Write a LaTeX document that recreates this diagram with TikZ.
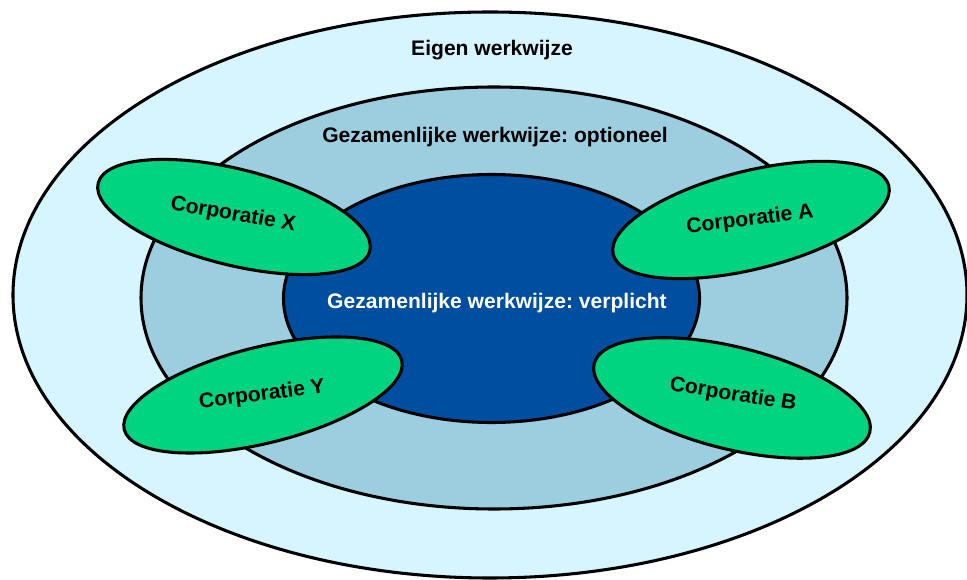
\documentclass[tikz,border=0pt]{standalone}
\usepackage{fontspec}
\setmainfont{Liberation Sans}
\frenchspacing
\definecolor{outerblue}{RGB}{214,245,255}
\definecolor{midblue}{RGB}{156,206,224}
\definecolor{innerblue}{RGB}{0,78,160}
\definecolor{corpgreen}{RGB}{0,212,128}
\begin{document}
\begin{tikzpicture}[x=0.75pt,y=-0.75pt, ring/.style={draw,line width=2.3pt}, corp/.style={ring,fill=corpgreen}]
	\tikzstyle{every node}=[font=\bfseries\fontsize{15.8}{18}\selectfont]
	\useasboundingbox (0,0) rectangle (967,580);
	% rings
	\draw[ring,fill=outerblue] (490,295) ellipse (477 and 283);
	\draw[ring,fill=midblue] (494,298) ellipse (353 and 211);
	\draw[ring,fill=innerblue] (491.5,298.5) ellipse (208 and 124);
	% corporaties
	\draw[corp,rotate around={-14:(234,217)}] (234,217) ellipse (140 and 48);
	\draw[corp,rotate around={14:(751,220)}] (751,220) ellipse (142 and 49);
	\draw[corp,rotate around={14:(263,395)}] (263,395) ellipse (143 and 48);
	\draw[corp,rotate around={-14:(732,398)}] (732,398) ellipse (142 and 51);
	\draw (492,50) node(eigen) {Eigen werkwijze}
	      (495,137) node(optie) {Gezamenlijke werkwijze: optioneel}
	      (497,303) node(plicht) [text=white] {Gezamenlijke werkwijze: verplicht}
	      (233,215) node(corpx) [rotate=-10] {Corporatie X}
	      (750,220) node(corpa) [rotate=7] {Corporatie A}
	      (262,395) node(corpy) [rotate=7] {Corporatie Y}
	      (733,395) node(corpb) [rotate=-9] {Corporatie B};
\end{tikzpicture}
\end{document}
